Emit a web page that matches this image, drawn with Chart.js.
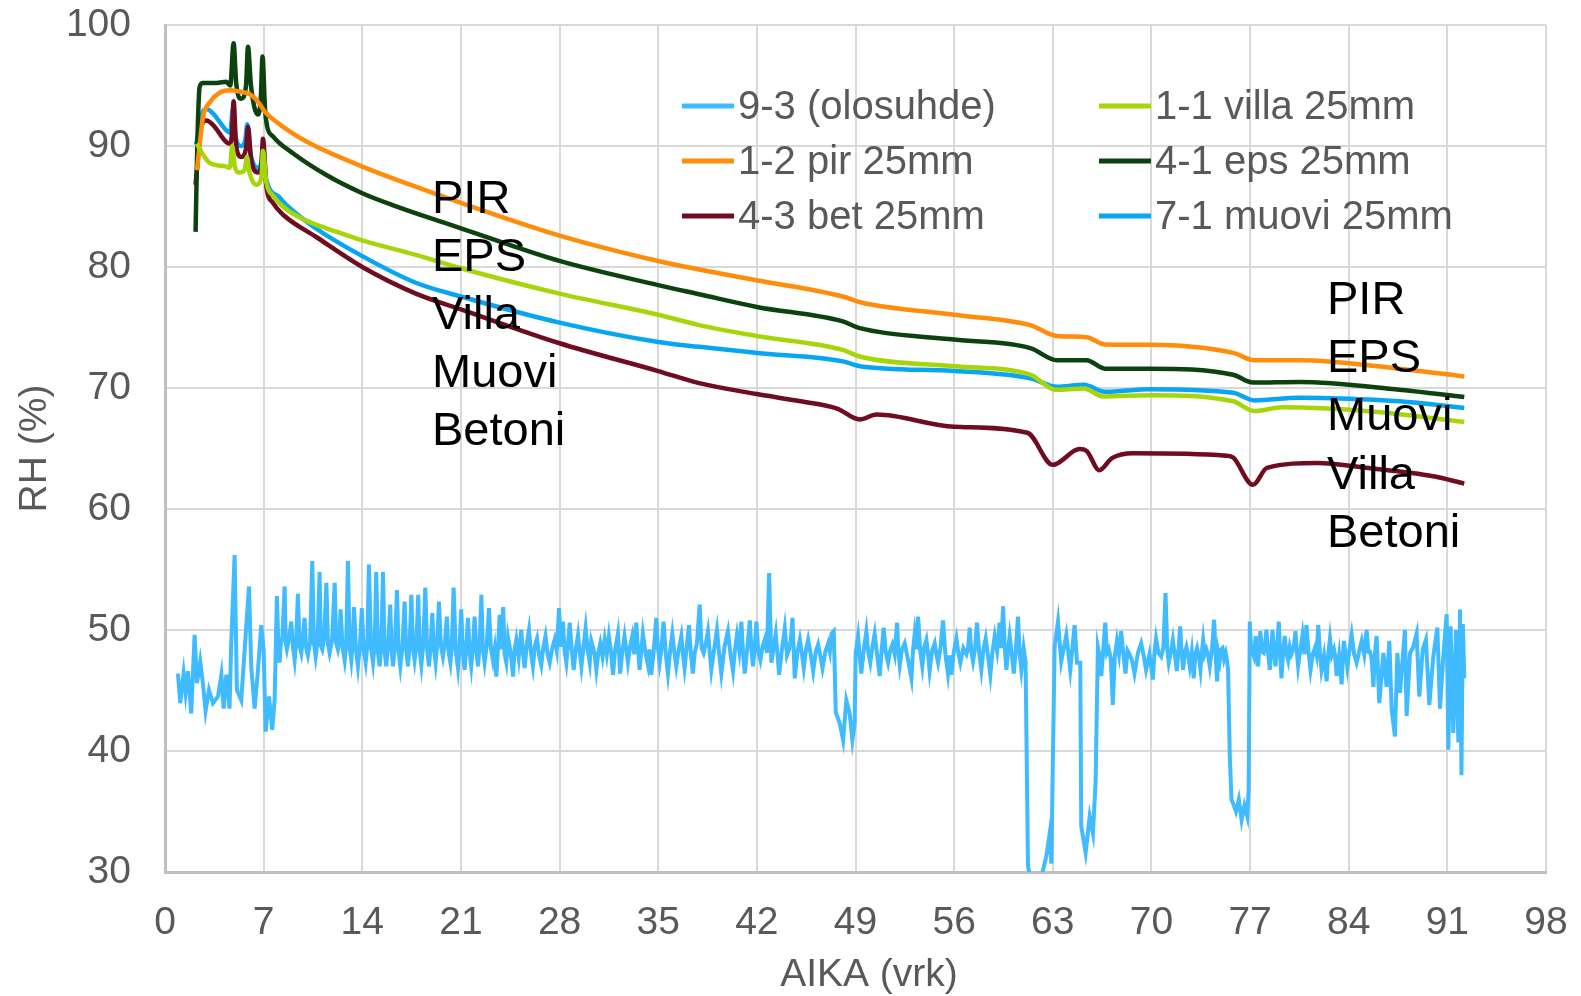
<!DOCTYPE html>
<html>
<head>
<meta charset="utf-8">
<script src="https://cdn.jsdelivr.net/npm/chart.js@4.4.1/dist/chart.umd.min.js"></script>
<style>
  html, body { margin: 0; padding: 0; background: #fff; }
  canvas { display: block; }
</style>
</head>
<body>
<canvas id="rhChart" width="1581" height="996"></canvas>
<script>
// [day, RH %]
const olosuhde = [
  [0.92,46.4],[1.08,43.95],[1.32,46.4],[1.46,44.8],[1.63,46.6],[1.86,43.1],[2.1,49.6],[2.27,45.6],[2.5,47.4],[2.69,45.6],
  [2.88,43.3],[3.12,45.05],[3.4,43.95],[3.76,44.5],[4.0,46.3],[4.16,43.5],[4.35,46.3],[4.58,43.5],[4.7,48.9],[4.94,56.2],
  [5.1,45.05],[5.41,44.2],[5.72,49.5],[5.96,53.6],[6.12,47.0],[6.36,43.5],[6.6,46.7],[6.83,50.4],[7.0,48.4],[7.14,41.6],
  [7.38,44.5],[7.61,41.75],[7.78,44.2],[7.94,52.8],[8.05,48.6],[8.13,47.3],[8.22,48.9],[8.32,49.2],[8.49,53.6],[8.57,48.9],
  [8.65,48.4],[8.8,49.3],[8.96,50.7],[9.08,48.6],[9.2,47.5],[9.3,48.8],[9.43,53.0],[9.55,48.7],[9.67,48.1],[9.78,49.2],
  [9.9,51.0],[10.02,48.5],[10.14,47.9],[10.3,49.0],[10.45,55.7],[10.57,48.9],[10.69,47.8],[10.83,49.1],[10.97,54.8],[11.06,48.7],
  [11.16,48.4],[11.3,49.4],[11.45,53.9],[11.57,48.8],[11.68,48.1],[11.86,49.2],[12.04,53.9],[12.15,48.9],[12.27,48.4],[12.36,49.0],
  [12.46,51.7],[12.6,48.6],[12.75,47.5],[12.86,48.8],[12.98,55.7],[13.1,48.6],[13.22,47.5],[13.32,48.9],[13.41,51.9],[13.55,48.4],
  [13.69,47.0],[13.83,48.7],[13.97,51.8],[14.1,48.3],[14.24,47.3],[14.36,48.8],[14.47,55.4],[14.62,48.5],[14.76,47.3],[14.88,48.9],
  [14.99,54.8],[15.11,48.2],[15.23,47.0],[15.35,48.7],[15.47,54.8],[15.58,48.3],[15.7,47.0],[15.84,48.9],[15.98,52.1],[16.08,48.4],
  [16.18,47.0],[16.32,48.8],[16.46,53.3],[16.58,48.2],[16.7,47.0],[16.85,48.6],[17.0,52.35],[17.12,48.3],[17.24,47.0],[17.36,48.7],
  [17.48,52.9],[17.6,48.5],[17.71,47.5],[17.84,48.8],[17.97,52.9],[18.08,48.2],[18.19,47.1],[18.33,48.9],[18.47,53.5],[18.6,48.4],
  [18.73,47.0],[18.85,48.6],[18.97,51.4],[19.08,48.5],[19.2,47.3],[19.32,48.9],[19.44,52.35],[19.58,48.7],[19.72,47.8],[19.86,48.9],
  [20.0,51.1],[20.12,48.2],[20.25,47.3],[20.36,48.8],[20.48,53.5],[20.63,48.3],[20.79,46.85],[20.9,48.6],[21.02,51.7],[21.14,48.2],
  [21.26,46.7],[21.38,48.5],[21.5,51.0],[21.62,48.1],[21.73,47.0],[21.85,48.6],[21.97,51.1],[22.09,48.3],[22.21,47.0],[22.33,48.8],
  [22.45,52.9],[22.56,48.4],[22.68,47.3],[22.83,48.7],[22.99,51.8],[23.13,48.5],[23.27,47.5],[23.39,48.4],[23.51,46.15],[23.63,48.5],
  [23.75,51.25],[23.88,48.4],[24.0,51.9],[24.1,48.0],[24.22,47.3],[24.34,49.4],[24.46,48.6],[24.58,47.6],[24.7,46.15],[24.8,48.3],
  [24.93,49.2],[25.1,47.7],[25.28,50.0],[25.4,48.2],[25.52,46.85],[25.68,48.9],[25.83,50.0],[25.97,48.1],[26.11,47.0],[26.25,48.7],
  [26.4,49.3],[26.55,47.9],[26.7,47.1],[26.85,48.6],[27.0,49.5],[27.15,48.0],[27.3,47.3],[27.48,48.5],[27.65,49.2],[27.8,48.3],
  [27.96,51.8],[28.1,48.6],[28.24,50.7],[28.36,48.2],[28.48,47.3],[28.6,48.9],[28.72,50.6],[28.86,48.4],[29.0,46.7],[29.16,48.5],
  [29.31,49.6],[29.43,48.2],[29.55,47.0],[29.7,48.6],[29.85,50.15],[30.0,48.3],[30.14,47.3],[30.25,49.1],[30.37,48.6],[30.5,47.9],
  [30.61,46.7],[30.75,48.1],[30.89,48.9],[31.05,47.8],[31.2,49.2],[31.35,48.0],[31.5,49.5],[31.65,48.2],[31.79,46.3],[31.95,48.4],
  [32.14,49.7],[32.22,48.1],[32.3,46.4],[32.45,48.2],[32.61,49.5],[32.73,48.4],[32.85,47.3],[33.0,48.6],[33.16,49.5],[33.3,48.0],
  [33.44,50.6],[33.56,48.5],[33.68,46.7],[33.8,48.3],[33.91,49.7],[34.1,48.1],[34.27,47.1],[34.38,48.4],[34.5,46.3],[34.68,48.2],
  [34.86,51.0],[34.98,48.5],[35.1,47.3],[35.24,48.6],[35.38,50.7],[35.54,48.0],[35.69,46.4],[35.85,48.3],[36.0,49.7],[36.14,48.2],
  [36.28,47.0],[36.46,48.4],[36.64,49.5],[36.75,48.1],[36.87,46.85],[37.02,48.5],[37.18,50.4],[37.32,48.0],[37.46,46.4],[37.6,48.2],
  [37.75,48.9],[37.94,52.1],[38.08,48.5],[38.22,48.1],[38.38,48.9],[38.53,49.9],[38.65,48.2],[38.77,46.7],[38.97,48.4],[39.17,50.0],
  [39.32,48.1],[39.48,46.4],[39.7,48.6],[39.95,49.9],[40.13,48.0],[40.31,46.6],[40.45,48.4],[40.59,49.6],[40.75,48.3],[40.9,50.7],
  [41.02,48.1],[41.14,46.4],[41.32,48.5],[41.5,50.8],[41.62,48.3],[41.73,47.0],[41.85,48.6],[41.97,50.7],[42.1,48.2],[42.25,47.5],
  [42.4,48.6],[42.56,49.2],[42.72,48.1],[42.87,54.7],[43.03,47.3],[43.18,48.5],[43.34,49.7],[43.46,48.0],[43.58,46.3],[43.78,48.4],
  [43.98,50.15],[44.14,47.9],[44.29,48.4],[44.41,49.2],[44.53,51.0],[44.69,46.0],[44.87,48.1],[45.05,49.2],[45.2,48.0],[45.33,46.85],
  [45.48,48.3],[45.64,49.2],[45.82,48.0],[46.0,46.6],[46.18,48.2],[46.35,48.8],[46.5,47.9],[46.66,46.85],[46.86,48.2],[47.06,48.9],
  [47.18,48.2],[47.3,49.7],[47.46,49.9],[47.6,43.2],[47.88,42.3],[48.12,40.9],[48.35,44.2],[48.59,43.1],[48.78,40.9],[48.94,42.3],
  [49.01,48.1],[49.18,49.5],[49.3,47.8],[49.41,46.4],[49.6,48.5],[49.77,49.9],[49.9,48.2],[50.05,47.3],[50.2,48.6],[50.36,49.7],
  [50.54,47.9],[50.72,46.2],[50.86,48.4],[51.0,50.2],[51.15,48.1],[51.31,47.3],[51.46,48.3],[51.62,48.8],[51.78,48.0],[51.95,50.6],
  [52.04,48.3],[52.14,47.1],[52.3,48.4],[52.49,48.9],[52.72,47.6],[52.97,46.0],[53.08,48.3],[53.2,49.7],[53.32,48.4],[53.44,51.1],
  [53.6,48.2],[53.74,47.0],[53.88,48.6],[54.03,49.2],[54.15,48.0],[54.26,46.6],[54.44,48.3],[54.62,48.9],[54.74,48.0],[54.86,47.3],
  [55.03,48.5],[55.21,50.8],[55.38,48.0],[55.56,46.4],[55.68,47.9],[55.8,46.3],[55.98,48.2],[56.16,49.3],[56.3,48.1],[56.44,47.3],
  [56.65,48.5],[56.87,48.0],[57.0,48.6],[57.1,50.2],[57.22,48.2],[57.34,47.4],[57.48,48.4],[57.62,50.6],[57.78,48.1],[57.93,46.7],
  [58.08,48.4],[58.24,49.3],[58.4,47.9],[58.57,46.3],[58.72,48.2],[58.88,49.5],[59.05,48.3],[59.23,50.6],[59.35,48.5],[59.47,51.95],
  [59.6,48.4],[59.71,46.7],[59.82,48.3],[59.94,49.5],[60.08,48.1],[60.23,46.4],[60.38,48.4],[60.53,51.1],[60.65,48.0],[60.77,46.7],
  [60.93,48.5],[61.07,47.3],[61.24,30.5],[61.48,29.0],[62.07,29.0],[62.54,31.3],[62.78,33.2],[62.9,30.7],[63.01,39.5],[63.13,48.6],
  [63.37,50.7],[63.6,47.4],[63.96,49.6],[64.24,46.7],[64.55,50.4],[64.72,47.3],[64.95,47.3],[65.02,33.8],[65.33,31.6],[65.62,34.6],
  [65.85,33.2],[66.04,37.5],[66.2,48.6],[66.32,47.9],[66.44,46.2],[66.58,48.3],[66.72,50.6],[66.85,48.1],[66.98,48.4],[67.12,47.6],
  [67.26,43.8],[67.4,47.8],[67.55,49.1],[67.7,48.0],[67.85,49.9],[68.0,48.1],[68.16,46.4],[68.3,48.3],[68.44,48.0],[68.62,47.5],
  [68.8,46.4],[69.04,48.1],[69.27,48.9],[69.45,47.9],[69.62,46.7],[69.86,48.0],[70.1,45.9],[70.22,48.2],[70.33,49.3],[70.5,48.1],
  [70.69,47.8],[70.85,48.6],[71.0,53.05],[71.12,48.4],[71.23,47.3],[71.38,48.2],[71.52,49.2],[71.66,48.0],[71.8,46.6],[71.92,48.3],
  [72.04,50.3],[72.15,48.0],[72.25,46.7],[72.36,48.1],[72.48,48.6],[72.6,47.9],[72.72,47.0],[72.86,48.2],[73.0,46.0],[73.12,48.0],
  [73.24,48.5],[73.36,47.8],[73.48,46.7],[73.58,48.2],[73.67,49.2],[73.78,48.0],[73.9,48.4],[74.02,47.9],[74.14,47.0],[74.3,48.5],
  [74.45,50.85],[74.55,48.0],[74.66,45.75],[74.75,48.1],[74.85,47.5],[74.95,48.4],[75.04,48.5],[75.15,47.6],[75.27,48.1],[75.36,47.5],
  [75.44,46.7],[75.56,39.6],[75.68,36.0],[75.85,35.5],[76.0,35.0],[76.2,36.0],[76.4,34.3],[76.6,35.5],[76.8,34.6],[76.9,36.8],
  [76.98,50.7],[77.08,48.3],[77.17,48.2],[77.28,47.8],[77.4,49.5],[77.48,48.2],[77.57,47.0],[77.65,48.5],[77.73,49.9],[77.85,48.2],
  [77.97,48.1],[78.06,48.7],[78.16,50.0],[78.28,48.1],[78.4,46.7],[78.5,48.3],[78.59,50.0],[78.7,48.3],[78.8,47.0],[78.92,48.6],
  [79.04,50.7],[79.13,48.0],[79.23,46.0],[79.35,48.2],[79.46,49.5],[79.58,48.1],[79.7,47.5],[79.82,48.6],[79.94,48.0],[80.08,48.4],
  [80.22,49.9],[80.32,48.2],[80.41,47.0],[80.56,48.3],[80.72,49.6],[80.86,48.0],[81.0,50.4],[81.15,48.2],[81.29,46.7],[81.45,48.0],
  [81.6,48.5],[81.72,47.9],[81.84,50.4],[81.96,48.1],[82.07,46.7],[82.25,47.9],[82.43,45.75],[82.55,48.0],[82.67,49.3],[82.8,47.9],
  [82.95,48.4],[83.04,47.8],[83.14,46.2],[83.32,47.9],[83.5,45.5],[83.58,47.8],[83.66,49.1],[83.78,48.0],[83.9,46.9],[84.05,48.3],
  [84.21,49.6],[84.38,48.0],[84.56,47.3],[84.74,48.2],[84.92,49.1],[85.1,48.0],[85.27,50.0],[85.4,48.2],[85.51,48.2],[85.63,47.6],
  [85.75,45.3],[85.86,48.0],[85.98,49.5],[86.17,43.96],[86.46,48.1],[86.69,45.3],[86.88,49.1],[87.05,43.4],[87.28,41.2],[87.45,48.1],
  [87.64,44.8],[87.99,50.0],[88.11,42.9],[88.35,48.1],[88.58,48.6],[88.82,49.7],[89.01,44.5],[89.25,48.4],[89.48,49.2],[89.72,43.8],
  [90.0,47.8],[90.29,50.2],[90.48,43.5],[90.71,47.8],[90.95,51.3],[91.07,40.1],[91.23,50.3],[91.42,41.5],[91.61,50.0],[91.78,40.7],
  [91.9,51.7],[92.0,38.0],[92.1,50.5],[92.2,46.0]
];

const villa = [
  [2.25,90.2],[2.7,89.3],[3.17,88.6],[4.35,88.3],[4.6,88.2],[4.77,90.0],[4.95,88.3],[5.25,87.8],[5.65,88.0],[5.81,89.1],
  [6.0,87.8],[6.48,86.8],[6.85,87.5],[6.95,89.6],[7.19,87.0],[7.66,85.9],[8.37,85.0],[9.08,84.4],[10.7,83.5],[11.45,83.2],
  [14,82.2],[17.8,81.0],[21,79.9],[28,77.8],[35,76.05],[37.9,75.2],[42,74.3],[48.1,73.15],[49.3,72.6],[56,71.8],
  [61.4,71.1],[63.2,69.85],[65.2,69.96],[66.6,69.3],[69.9,69.4],[75.8,68.9],[77.3,68.1],[79.3,68.4],[85.2,68.1],[92.2,67.2]
];

const pir = [
  [2.27,88.0],[2.5,90.5],[2.7,92.4],[3.17,93.6],[3.87,94.4],[4.58,94.6],[5.3,94.5],[6.0,94.3],[6.5,93.8],[7.19,92.7],
  [7.9,92.0],[8.84,91.2],[10.3,90.2],[14,88.3],[17.4,86.8],[21,85.3],[28,82.6],[35,80.5],[37.9,79.8],[42,78.9],
  [48.1,77.56],[49.4,77.07],[56,76.05],[61.4,75.2],[63.3,74.3],[65.4,74.2],[66.7,73.6],[69.9,73.57],[75.8,72.9],[77.3,72.3],
  [80.5,72.3],[87.6,71.6],[92.2,70.95]
];

const eps = [
  [2.17,82.9],[2.3,90.5],[2.46,94.9],[2.7,95.2],[3.5,95.2],[4.35,95.3],[4.63,95.0],[4.87,98.5],[5.05,95.2],[5.41,93.9],
  [5.75,95.0],[5.89,98.2],[6.1,95.0],[6.6,92.6],[6.8,94.0],[6.92,97.4],[7.1,93.0],[7.25,91.6],[7.66,90.8],[9.08,89.4],
  [11.45,87.6],[14,86.1],[16.2,85.1],[19.7,83.7],[21,83.2],[28,80.5],[35,78.5],[37.9,77.75],[42,76.7],[48.1,75.5],
  [49.3,74.95],[56,74.0],[61.4,73.3],[63.3,72.3],[65.4,72.3],[66.7,71.6],[69.9,71.6],[75.8,71.1],[77.2,70.45],[80.5,70.5],
  [87.6,69.85],[92.2,69.25]
];

const bet = [
  [2.17,86.8],[2.6,91.75],[2.94,92.1],[3.4,91.75],[4.58,90.2],[4.75,91.0],[4.87,93.7],[5.05,90.0],[5.41,89.1],[5.75,89.8],
  [5.89,91.6],[6.1,89.0],[6.6,87.8],[6.85,88.5],[6.95,90.6],[7.19,86.7],[7.66,85.3],[8.4,84.3],[10.7,82.5],[14,80.0],
  [17.8,77.8],[21,76.5],[28,73.7],[35,71.4],[37.9,70.4],[42,69.5],[45.1,68.9],[47.7,68.3],[49.3,67.4],[50.5,67.8],
  [56,66.8],[61.2,66.3],[63.0,63.65],[64.9,64.95],[65.4,64.8],[66.3,63.2],[67.2,64.2],[68.7,64.6],[75.3,64.4],[75.8,64.25],
  [77.2,62.0],[78.2,63.4],[81.8,63.8],[85.2,63.4],[90.0,62.7],[92.2,62.1]
];

const muovi = [
  [2.2,90.1],[2.7,92.85],[2.94,93.05],[3.4,92.7],[4.35,91.3],[4.63,91.1],[4.82,93.1],[5.0,90.8],[5.41,90.0],[5.7,90.5],
  [5.84,91.8],[6.05,89.5],[6.6,88.2],[6.85,88.8],[6.95,90.0],[7.19,87.2],[8.1,85.8],[8.37,85.4],[10.7,83.2],[14,80.9],
  [17.8,78.7],[21,77.56],[28,75.4],[35,73.8],[37.9,73.4],[42,72.9],[48.1,72.2],[49.3,71.8],[56,71.4],[61.4,70.8],
  [63.3,70.1],[65.2,70.26],[66.7,69.7],[69.9,69.9],[75.8,69.6],[77.3,68.97],[80.5,69.2],[87.6,68.9],[92.2,68.35]
];

const seriesNames = ['9-3 (olosuhde)', '1-1 villa 25mm', '1-2 pir 25mm', '4-1 eps 25mm', '4-3 bet 25mm', '7-1 muovi 25mm'];
const seriesData = [olosuhde, villa, pir, eps, bet, muovi];
const seriesColors = ['#40BBFF', '#A6D60A', '#FF8C0A', '#0C420E', '#700C20', '#08A6F2'];

const labelsLeft = ['PIR', 'EPS', 'Villa', 'Muovi', 'Betoni'];
const labelsRight = ['PIR', 'EPS', 'Muovi', 'Villa', 'Betoni'];
const xTitle = 'AIKA (vrk)';

const FONT = "'Liberation Sans', Arial, sans-serif";
const GREY = '#595959';

const overlay = {
  id: 'overlay',
  afterDatasetsDraw(chart) {
    const ctx = chart.ctx;
    ctx.save();
    // legend, two columns inside the plot
    const colX = [682, 1099];
    const rowY = [106, 161, 216];
    ctx.font = '40px ' + FONT;
    ctx.textBaseline = 'middle';
    ctx.textAlign = 'left';
    chart.data.datasets.forEach((ds, i) => {
      const x = colX[i % 2], y = rowY[Math.floor(i / 2)];
      ctx.strokeStyle = ds.borderColor;
      ctx.lineWidth = 5;
      ctx.beginPath();
      ctx.moveTo(x, y);
      ctx.lineTo(x + 52, y);
      ctx.stroke();
      ctx.fillStyle = GREY;
      ctx.fillText(ds.label, x + 56, y + 2);
    });
    // material labels
    ctx.font = '47px ' + FONT;
    ctx.fillStyle = '#000';
    labelsLeft.forEach((t, i) => ctx.fillText(t, 432, 200 + i * 58));
    labelsRight.forEach((t, i) => ctx.fillText(t, 1327, 301 + i * 58.2));
    // x axis title (sits a bit right of centre in the original)
    ctx.font = '39px ' + FONT;
    ctx.fillStyle = GREY;
    ctx.textAlign = 'center';
    ctx.fillText(xTitle, 869, 975);
    ctx.restore();
  }
};

new Chart(document.getElementById('rhChart').getContext('2d'), {
  type: 'line',
  data: {
    datasets: seriesData.map((d, i) => ({
      label: seriesNames[i],
      data: d.map(p => ({ x: p[0], y: p[1] })),
      borderColor: seriesColors[i],
      backgroundColor: seriesColors[i],
      borderWidth: i === 0 ? 4 : 4.5,
      pointRadius: 0,
      cubicInterpolationMode: i === 0 ? 'default' : 'monotone',
      tension: 0,
      fill: false
    }))
  },
  options: {
    responsive: false,
    animation: false,
    devicePixelRatio: 1,
    layout: { padding: { left: 10, right: 35, top: 25, bottom: 0 } },
    plugins: { legend: { display: false }, tooltip: { enabled: false } },
    scales: {
      x: {
        type: 'linear',
        min: 0,
        max: 98,
        afterFit(s) { s.height = 124; s.paddingLeft = 0; s.paddingRight = 0; },
        ticks: { stepSize: 7, color: GREY, padding: 28, font: { family: FONT, size: 39 } },
        grid: { color: '#d9d9d9', lineWidth: 2, drawTicks: false },
        border: { color: '#bfbfbf', width: 3 },
        title: { display: false }
      },
      y: {
        min: 30,
        max: 100,
        afterFit(s) { s.width = 155; s.paddingTop = 0; s.paddingBottom = 0; },
        ticks: { stepSize: 10, color: GREY, padding: 34, font: { family: FONT, size: 39 } },
        grid: { color: '#d9d9d9', lineWidth: 2, drawTicks: false },
        border: { color: '#bfbfbf', width: 3 },
        title: { display: true, text: 'RH (%)', color: GREY, font: { family: FONT, size: 39 }, padding: { top: 2, bottom: 2 } }
      }
    }
  },
  plugins: [overlay]
});
</script>
</body>
</html>
